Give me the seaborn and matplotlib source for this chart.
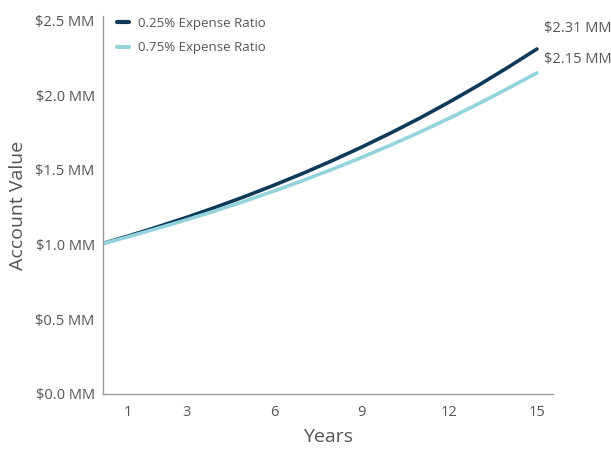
import matplotlib
matplotlib.use("Agg")
import matplotlib.pyplot as plt
import seaborn as sns
import pandas as pd

years = list(range(0, 16))
low_fee = [1.0, 1.057, 1.118, 1.182, 1.250, 1.322, 1.398, 1.478, 1.563, 1.653,
           1.748, 1.848, 1.955, 2.067, 2.186, 2.31]
high_fee = [1.0, 1.052, 1.108, 1.166, 1.227, 1.291, 1.359, 1.430, 1.505, 1.584,
            1.667, 1.754, 1.846, 1.943, 2.045, 2.15]
series_names = ["0.25% Expense Ratio", "0.75% Expense Ratio"]
end_labels = ["$2.31 MM", "$2.15 MM"]
x_ticks = [1, 3, 6, 9, 12, 15]
y_ticks = [0.0, 0.5, 1.0, 1.5, 2.0, 2.5]
y_tick_labels = ["$0.0 MM", "$0.5 MM", "$1.0 MM", "$1.5 MM", "$2.0 MM", "$2.5 MM"]

sns.set_style("white")
plt.rcParams["font.family"] = ["Open Sans", "DejaVu Sans"]

df = pd.DataFrame({
    "Years": years * 2,
    "Value": low_fee + high_fee,
    "Series": [series_names[0]] * len(years) + [series_names[1]] * len(years),
})

colors = {series_names[0]: "#0e3a5a", series_names[1]: "#93d4dc"}
text_color = "#555555"

fig = plt.figure(figsize=(6.11, 4.49), dpi=100)
ax = fig.add_axes([0.1686, 0.1225, 0.905 - 0.1686, 0.964 - 0.1225])

sns.lineplot(data=df, x="Years", y="Value", hue="Series", palette=colors,
             linewidth=2.6, ax=ax)

ax.set_xlim(0.15, 15.55)
ax.set_ylim(0, 2.53)
ax.set_xticks(x_ticks)
ax.set_xticklabels([str(t) for t in x_ticks])
ax.set_yticks(y_ticks)
ax.set_yticklabels(y_tick_labels)
ax.tick_params(axis="both", length=0, labelsize=10.5, colors=text_color, pad=8)
ax.tick_params(axis="y", pad=6)

for side in ["top", "right"]:
    ax.spines[side].set_visible(False)
for side in ["left", "bottom"]:
    ax.spines[side].set_color("#999999")
    ax.spines[side].set_linewidth(1.0)

ax.set_xlabel("Years", fontsize=14, color=text_color, labelpad=6)
ax.set_ylabel("Account Value", fontsize=14, color=text_color)
ax.yaxis.set_label_coords(-0.17, 0.5)

leg = ax.legend(loc="upper left", frameon=False, fontsize=9.5, handlelength=0.9,
                handletextpad=0.7, borderaxespad=0.0, bbox_to_anchor=(0.02, 1.012),
                labelspacing=0.85)
for t in leg.get_texts():
    t.set_color(text_color)
for h in leg.get_lines():
    h.set_linewidth(3)

ends = [low_fee[-1], high_fee[-1]]
offsets = [(5, 15), (5, 10)]
for val, lab, off in zip(ends, end_labels, offsets):
    ax.annotate(lab, xy=(years[-1], val), xytext=off, textcoords="offset points",
                fontsize=10.5, color=text_color, ha="left", va="center",
                annotation_clip=False)

fig.savefig("out.png", dpi=100)
